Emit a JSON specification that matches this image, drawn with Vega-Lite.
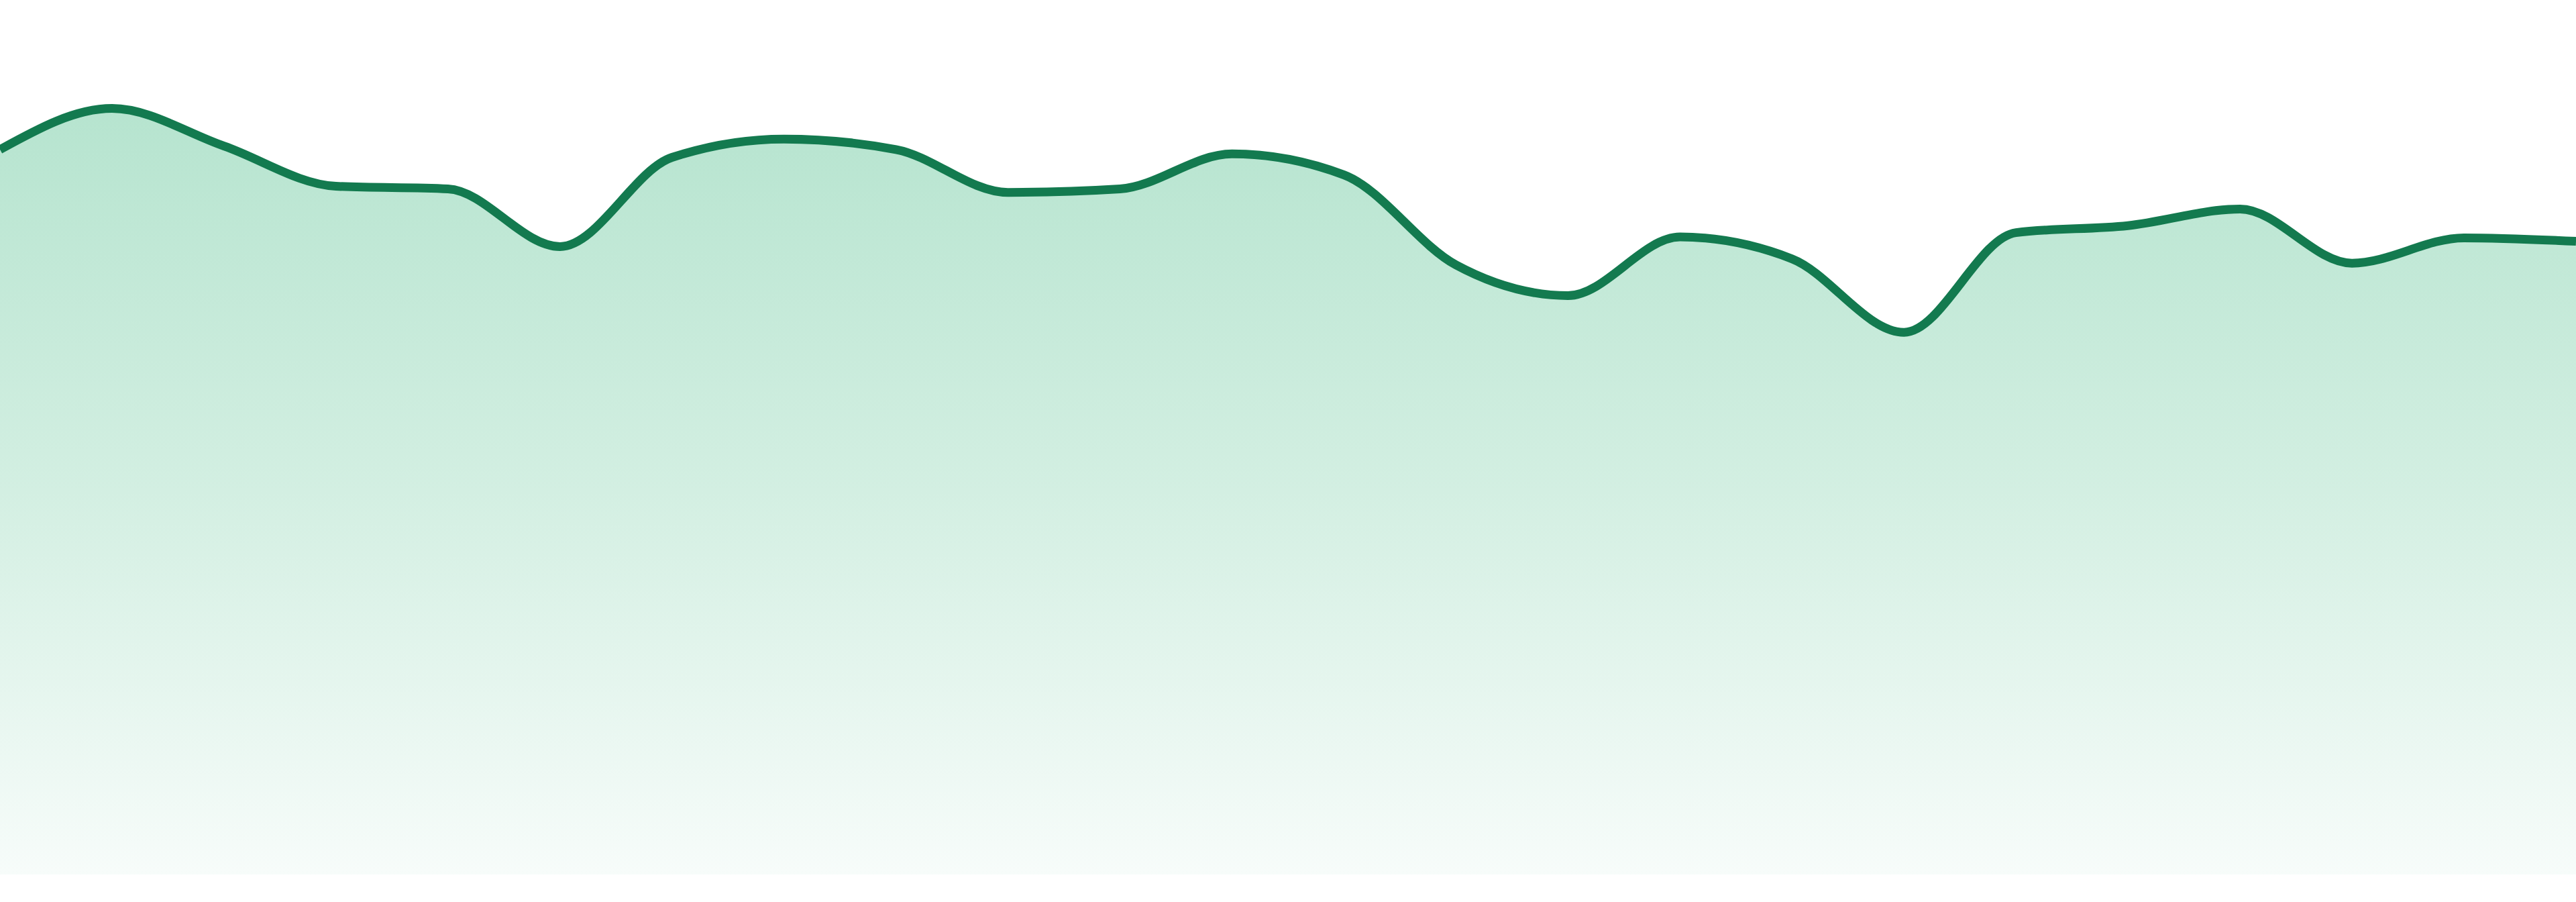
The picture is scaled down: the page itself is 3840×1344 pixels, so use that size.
{
  "$schema": "https://vega.github.io/schema/vega-lite/v6.json",
  "width": 3840,
  "height": 1303,
  "autosize": "none",
  "padding": 0,
  "background": "white",
  "config": {"view": {"stroke": null}},
  "data": {
    "values": [
      {"step": 0, "value": 82.9},
      {"step": 1, "value": 87.6},
      {"step": 2, "value": 83.3},
      {"step": 3, "value": 78.7},
      {"step": 4, "value": 78.4},
      {"step": 5, "value": 71.8},
      {"step": 6, "value": 82.0},
      {"step": 7, "value": 84.1},
      {"step": 8, "value": 82.9},
      {"step": 9, "value": 78.0},
      {"step": 10, "value": 78.4},
      {"step": 11, "value": 82.4},
      {"step": 12, "value": 80.0},
      {"step": 13, "value": 69.7},
      {"step": 14, "value": 66.2},
      {"step": 15, "value": 72.9},
      {"step": 16, "value": 70.4},
      {"step": 17, "value": 62.0},
      {"step": 18, "value": 73.4},
      {"step": 19, "value": 74.2},
      {"step": 20, "value": 76.1},
      {"step": 21, "value": 69.9},
      {"step": 22, "value": 72.8},
      {"step": 23, "value": 72.4}
    ]
  },
  "encoding": {
    "x": {
      "field": "step",
      "type": "quantitative",
      "axis": null,
      "scale": {"domain": [0, 23], "nice": false, "zero": false}
    },
    "y": {
      "field": "value",
      "type": "quantitative",
      "axis": null,
      "scale": {"domain": [0, 100], "nice": false}
    }
  },
  "layer": [
    {
      "mark": {
        "type": "area",
        "interpolate": "monotone",
        "fill": {
          "gradient": "linear",
          "x1": 0, "y1": 0, "x2": 0, "y2": 1,
          "stops": [
            {"offset": 0, "color": "#b6e4cf"},
            {"offset": 0.5, "color": "#d3efe2"},
            {"offset": 1, "color": "#f7fcfa"}
          ]
        }
      }
    },
    {
      "mark": {
        "type": "line",
        "interpolate": "monotone",
        "color": "#137a4f",
        "strokeWidth": 13
      }
    }
  ]
}
